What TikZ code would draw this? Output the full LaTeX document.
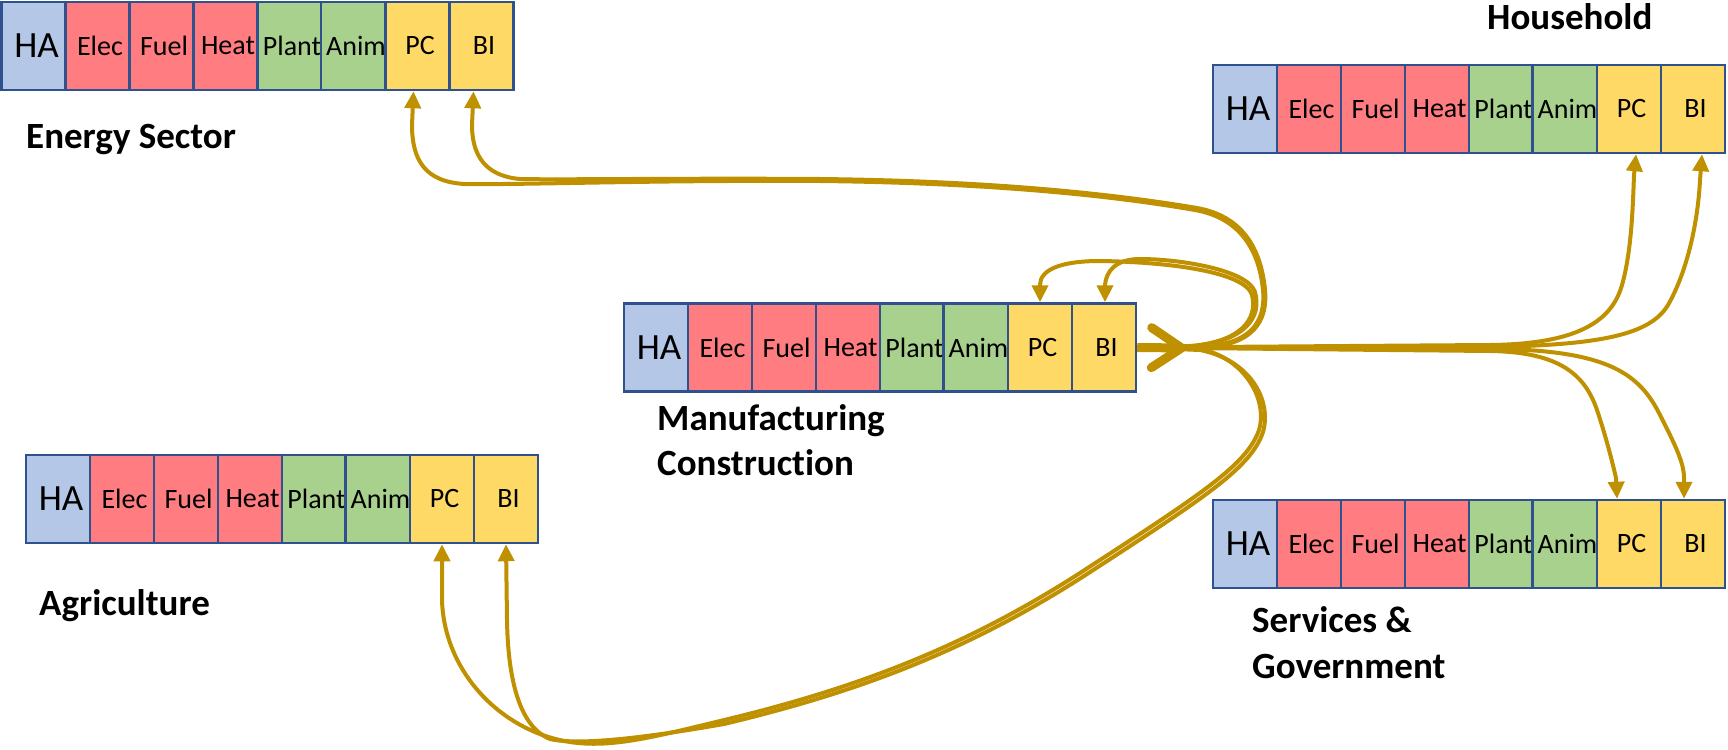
\documentclass[tikz,border=0pt]{standalone}
\usepackage{fontspec}
\setmainfont{Carlito}[Ligatures=NoCommon]
\usetikzlibrary{arrows.meta}
\definecolor{cHA}{HTML}{B4C7E7}
\definecolor{cRed}{HTML}{FF7C80}
\definecolor{cGreen}{HTML}{A9D18E}
\definecolor{cYel}{HTML}{FFD966}
\definecolor{cBor}{HTML}{2F528F}
\definecolor{gold}{HTML}{BF9000}
\tikzset{
  cell/.style={draw=cBor, line width=2.5pt, minimum width=64pt, minimum height=88pt,
    inner sep=0pt, font=\fontsize{28}{33}\selectfont},
  hacell/.style={cell, fill=cHA, font=\fontsize{37}{42}\selectfont},
  lab/.style={inner sep=0pt, anchor=base west, font=\bfseries\fontsize{37}{44}\selectfont},
  conn/.style={draw=gold, line width=4pt, -{Triangle[length=17pt,width=16pt]}},
}
\newcommand{\sectorbar}[3]{%
  \node[hacell] (#1HA) at ({#2+32},{#3+44}) {\hspace*{6pt}HA};
  \foreach \lab/\col/\k in {Elec/cRed/1, Fuel/cRed/2, Heat/cRed/3, Plant/cGreen/4, Anim/cGreen/5, PC/cYel/6, BI/cYel/7}{
    \node[cell, fill=\col] (#1\lab) at ({#2+32+64*\k},{#3+44}) {\hspace*{5pt}\lab};
  }%
}
\begin{document}
\begin{tikzpicture}[x=1pt, y=-1pt]
\useasboundingbox (0,0) rectangle (1728,749);
% bars
\sectorbar{e}{1.5}{2}
\sectorbar{h}{1213}{65}
\sectorbar{m}{624}{303.5}
\sectorbar{a}{26}{455}
\sectorbar{s}{1213}{500}
% labels
\node[lab] (eLab) at (26,148) {Energy Sector};
\node[lab] (hLab) at (1487,30) {Household};
\node[lab] (mLab1) at (657,430) {Manufacturing};
\node[lab] (mLab2) at (657,475) {Construction};
\node[lab] (aLab) at (39,615) {Agriculture};
\node[lab] (sLab1) at (1252,632) {Services \&};
\node[lab] (sLab2) at (1252,678) {Government};
% hub
\coordinate (hub) at (1186,348);
% Household
\draw[conn] (mBI.east) -- (1490,345) .. controls (1580,344) and (1612,320) .. (1622,285)
  .. controls (1632,250) and (1633,200) .. (1634,175) -- ([xshift=7pt]hPC.south);
\draw[conn] (mBI.east) -- (1490,347) .. controls (1600,345) and (1650,335) .. (1668,305)
  .. controls (1688,270) and (1698,220) .. (1700,180) -- ([xshift=9pt]hBI.south);
% Services
\draw[conn] (mBI.east) -- (1490,351) .. controls (1560,352) and (1585,375) .. (1597,410)
  .. controls (1607,440) and (1613,465) .. (1616,478) -- ([xshift=-12pt]sPC.north);
\draw[conn] (mBI.east) -- (1500,349) .. controls (1610,351) and (1640,375) .. (1660,415)
  .. controls (1678,450) and (1684,465) .. (1684,478) -- ([xshift=-9pt]sBI.north);
% Manufacturing loops
\draw[conn] (mBI.east) -- (1190,346) .. controls (1240,342) and (1258,320) .. (1252,295)
  .. controls (1245,272) and (1170,262) .. (1100,261) .. controls (1060,261) and (1040,270) .. (1040,285) -- (mPC.north);
\draw[conn] (mBI.east) -- (1195,346) .. controls (1245,340) and (1262,318) .. (1255,292)
  .. controls (1248,270) and (1180,259) .. (1140,259) .. controls (1115,259) and (1106,272) .. (1105,285) -- ([xshift=1pt]mBI.north);
% Energy loops
\draw[conn] (mBI.east) -- (1205,346) .. controls (1250,344) and (1266,322) .. (1263,290)
  .. controls (1259,250) and (1240,218) .. (1195,210) .. controls (1120,197) and (1000,183) .. (820,181)
  .. controls (650,180) and (520,185) .. (465,184) .. controls (425,182) and (412,160) .. (412,125) -- ([xshift=-4pt]ePC.south);
\draw[conn] (mBI.east) -- (1205,347) .. controls (1252,345) and (1268,322) .. (1265,290)
  .. controls (1261,248) and (1242,216) .. (1197,208) .. controls (1120,195) and (1000,181) .. (820,179)
  .. controls (680,178) and (560,180) .. (520,179) .. controls (485,176) and (472,155) .. (472,125) -- ([xshift=-8pt]eBI.south);
% Agriculture loops
\draw[conn] (mBI.east) -- (1200,349) .. controls (1245,358) and (1268,400) .. (1259,430)
  .. controls (1247,465) and (1200,495) .. (1080,573) .. controls (960,650) and (850,690) .. (720,721)
  .. controls (650,738) and (610,748) .. (570,742) .. controls (500,731) and (444,671) .. (442,600) -- (aPC.south);
\draw[conn] (mBI.east) -- (1200,350) .. controls (1250,360) and (1272,400) .. (1263,432)
  .. controls (1251,468) and (1204,498) .. (1084,576) .. controls (964,653) and (854,693) .. (724,724)
  .. controls (650,737) and (580,746) .. (550,739) .. controls (520,727) and (508,681) .. (507,620) -- (aBI.south);
% big chevron
\draw[draw=gold, line width=9pt, -{Straight Barb[length=30pt,width=40pt,round]}] (mBI.east) -- (hub);
\end{tikzpicture}
\end{document}
